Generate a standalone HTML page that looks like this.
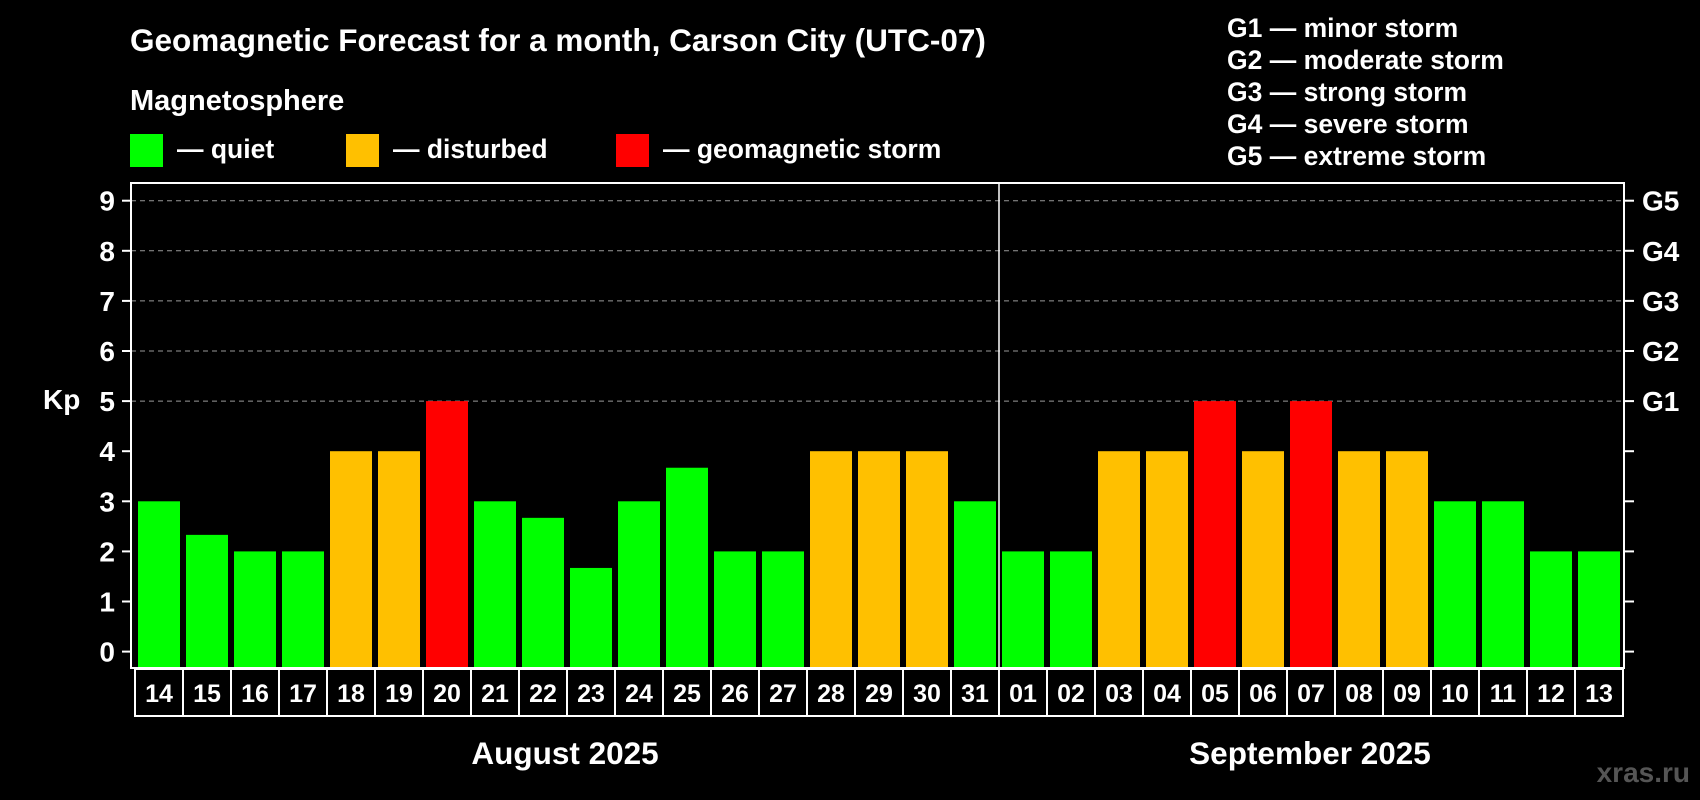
<!DOCTYPE html>
<html><head><meta charset="utf-8"><style>
html,body{margin:0;padding:0;background:#000;}
svg{display:block;font-family:"Liberation Sans",Arial,sans-serif;font-weight:bold;}
</style></head><body>
<svg id="chart" width="1700" height="800" viewBox="0 0 1700 800">
<text x="130" y="51" fill="#fff" font-size="31.5">Geomagnetic Forecast for a month, Carson City (UTC-07)</text>
<text x="130" y="110" fill="#fff" font-size="29">Magnetosphere</text>
<g><rect x="130" y="134" width="33" height="33" fill="#00ff00"/><text x="177" y="158" fill="#fff" font-size="26.5">— quiet</text></g>
<g><rect x="346" y="134" width="33" height="33" fill="#ffc000"/><text x="393" y="158" fill="#fff" font-size="26.5">— disturbed</text></g>
<g><rect x="616" y="134" width="33" height="33" fill="#ff0000"/><text x="663" y="158" fill="#fff" font-size="26.5">— geomagnetic storm</text></g>
<g font-size="26.5" fill="#fff">
<text x="1227" y="37">G1 — minor storm</text>
<text x="1227" y="69">G2 — moderate storm</text>
<text x="1227" y="101">G3 — strong storm</text>
<text x="1227" y="133">G4 — severe storm</text>
<text x="1227" y="165">G5 — extreme storm</text>
</g>
<text x="43" y="409" fill="#fff" font-size="28">Kp</text>
<g id="grid"></g><g id="bars"></g><g id="axes"></g>
<text x="565" y="764" text-anchor="middle" fill="#fff" font-size="31.5">August 2025</text>
<text x="1310" y="764" text-anchor="middle" fill="#fff" font-size="31.5">September 2025</text>
<text x="1690" y="782" text-anchor="end" fill="#555" font-size="28">xras.ru</text>
</svg>
<script>
const days = ["14","15","16","17","18","19","20","21","22","23","24","25","26","27","28","29","30","31","01","02","03","04","05","06","07","08","09","10","11","12","13"];
const kp = [3,2.33,2,2,4,4,5,3,2.67,1.67,3,3.67,2,2,4,4,4,3,2,2,4,4,5,4,5,4,4,3,3,2,2];
const yTicks = [0,1,2,3,4,5,6,7,8,9];
const gLabels = ["G1","G2","G3","G4","G5"];
const gLevels = [5,6,7,8,9];
const NS="http://www.w3.org/2000/svg";
const L=131,R=1624,T=183,B=668;
const y=v=>651.6-50.1*v;
const x=i=>138+48*i;
function mk(tag,attrs,parent){const e=document.createElementNS(NS,tag);for(const k in attrs)e.setAttribute(k,attrs[k]);parent.appendChild(e);return e;}
const grid=document.getElementById('grid'),bars=document.getElementById('bars'),axes=document.getElementById('axes');
gLevels.forEach(v=>{const l=mk('line',{x1:L,x2:R,y1:y(v),y2:y(v),stroke:'#999','stroke-dasharray':'5,4','stroke-width':1},grid);

});
kp.forEach((v,i)=>{const c=v>=5?'#ff0000':(v>=4?'#ffc000':'#00ff00');
const r=mk('rect',{x:x(i),y:y(v),width:42,height:B-y(v),fill:c},bars);

});
const box=mk('rect',{x:L,y:T,width:R-L,height:B-T,fill:'none',stroke:'#fff','stroke-width':2},axes);


const sep=mk('line',{x1:(x(17)+42+x(18))/2,x2:(x(17)+42+x(18))/2,y1:T,y2:B,stroke:'#fff','stroke-width':1.5},axes);


yTicks.forEach(v=>{mk('line',{x1:122,x2:L,y1:y(v),y2:y(v),stroke:'#fff','stroke-width':2},axes);
mk('line',{x1:R,x2:1634,y1:y(v),y2:y(v),stroke:'#fff','stroke-width':2},axes);
const t=mk('text',{x:115,y:y(v)+10,'text-anchor':'end',fill:'#fff','font-size':28},axes);t.textContent=v;

});
gLabels.forEach((g,i)=>{const t=mk('text',{x:1642,y:y(gLevels[i])+10,fill:'#fff','font-size':28},axes);t.textContent=g;

});
days.forEach((d,i)=>{const bx=135+48*i;
const r=mk('rect',{x:bx,y:669,width:48,height:47,fill:'none',stroke:'#fff','stroke-width':2},axes);


const t=mk('text',{x:bx+24,y:702,'text-anchor':'middle',fill:'#fff','font-size':25},axes);t.textContent=d;

});
</script>
</body></html>
